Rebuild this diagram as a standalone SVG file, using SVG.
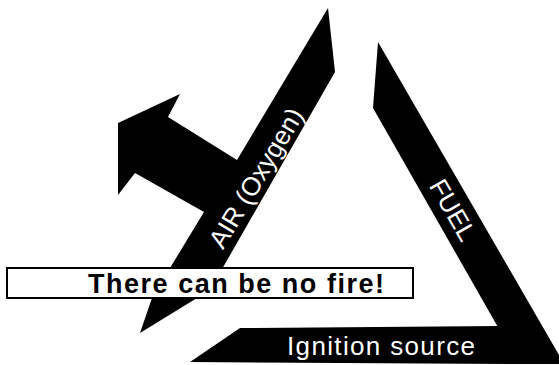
<svg xmlns="http://www.w3.org/2000/svg" width="559" height="365" viewBox="0 0 559 365">
<style>
.band{fill:#000;stroke:none}
.lbl{font-family:"Liberation Sans",Arial,sans-serif;fill:#fff;font-size:26px}
.msg{font-family:"Liberation Sans",Arial,sans-serif;fill:#000;font-size:27px;font-weight:bold}
.box{fill:#fff;stroke:#000;stroke-width:2}
</style>
<rect width="559" height="365" fill="#fff"/>
<g id="fuel">
<polygon class="band" points="378,42 559,355 559,364 519,364 373,108"/>
<text class="lbl" transform="translate(453,210) rotate(60)" x="0" y="9" text-anchor="middle">FUEL</text>
</g>
<g id="ignition">
<polygon class="band" points="240,328 500,326 525,364 190,362"/>
<text class="lbl" x="287" y="355" textLength="188" lengthAdjust="spacing">Ignition source</text>
</g>
<g id="air">
<polygon class="band" points="328,8 335,72 210,290 140,333 152,298 170,268 204,212 135,173 118,195 118,123 180,94 168,117 237,160"/>
<text class="lbl" transform="translate(256,178) rotate(-59)" x="0" y="9" text-anchor="middle" textLength="158" lengthAdjust="spacing">AIR (Oxygen)</text>
</g>
<g id="connectors"></g>
<g id="message">
<rect class="box" x="7" y="268" width="406" height="30"/>
<text class="msg" x="88" y="293" textLength="296" lengthAdjust="spacing">There can be no fire!</text>
</g>
</svg>
